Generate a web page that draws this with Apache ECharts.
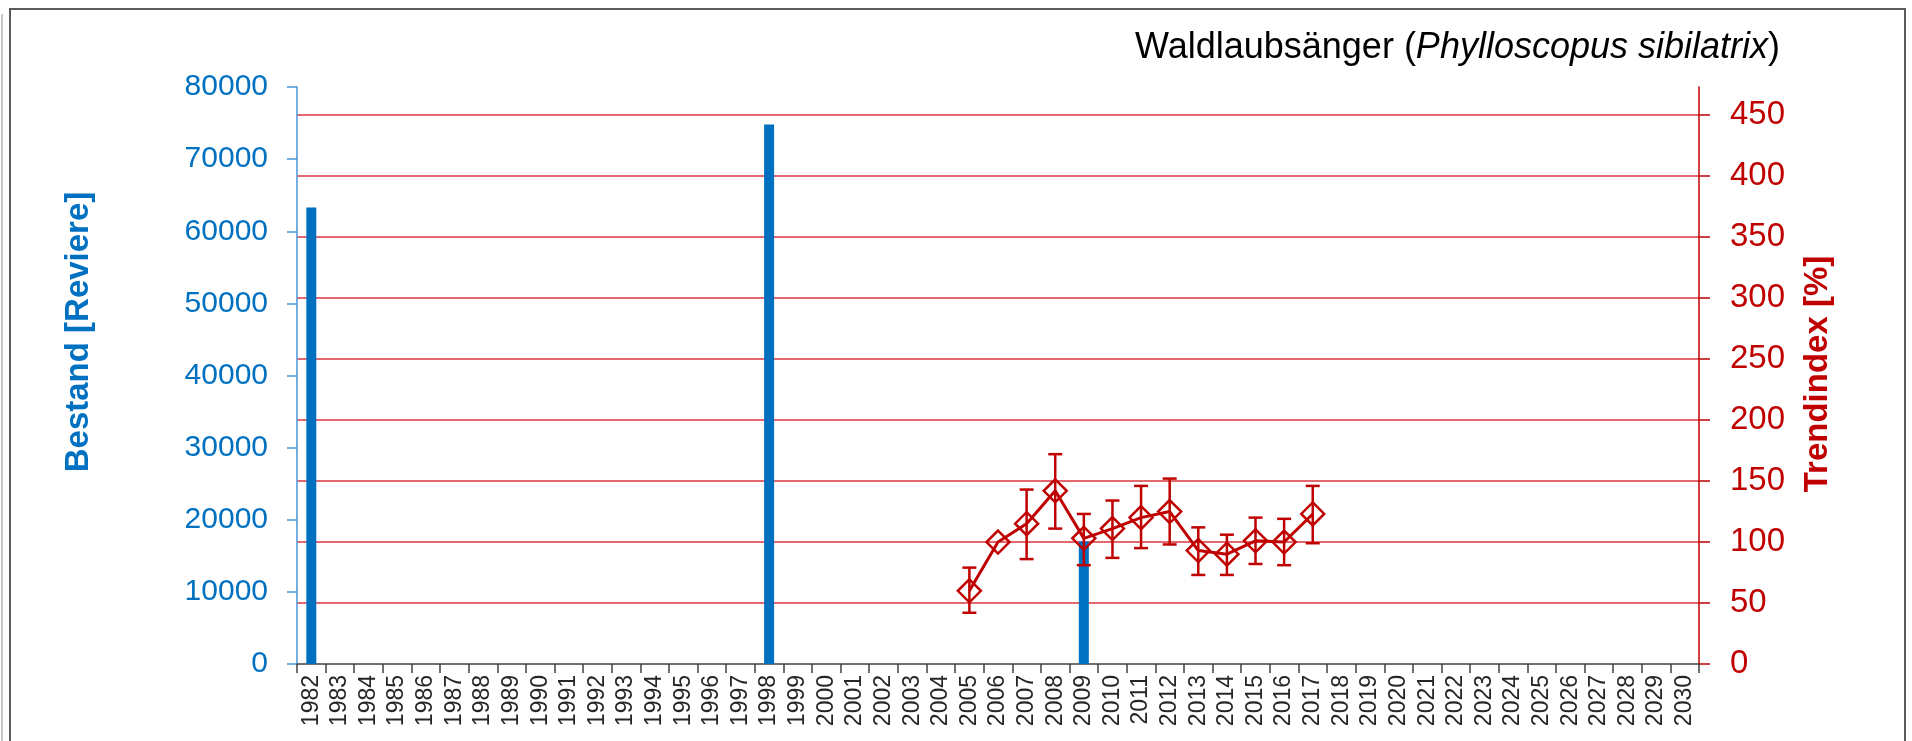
<!DOCTYPE html>
<html>
<head>
<meta charset="utf-8">
<title>Waldlaubsänger</title>
<script src="https://cdn.jsdelivr.net/npm/echarts@6/dist/echarts.min.js"></script>
<style>
  html, body { margin: 0; padding: 0; background: #fff; }
  #chart { width: 1912px; height: 741px; }
</style>
</head>
<body>
<div id="chart"></div>
<script>
// x-Achse: Jahre
var years = ['1982','1983','1984','1985','1986','1987','1988','1989','1990','1991',
             '1992','1993','1994','1995','1996','1997','1998','1999','2000','2001',
             '2002','2003','2004','2005','2006','2007','2008','2009','2010','2011',
             '2012','2013','2014','2015','2016','2017','2018','2019','2020','2021',
             '2022','2023','2024','2025','2026','2027','2028','2029','2030'];

// Bestand [Reviere] (Balken, linke Achse)
var bestandYears  = ['1982', '1998', '2009'];
var bestandValues = [63300, 74800, 17000];

// Trendindex [%] mit Fehlerbalken (rechte Achse)
var trendYears  = ['2005','2006','2007','2008','2009','2010','2011','2012','2013','2014','2015','2016','2017'];
var trendValues = [60, 100, 115, 142, 103, 111, 120, 125, 93, 90, 101, 100, 123];
var trendLow    = [42, null, 86, 111, 81, 87, 95, 98, 73, 73, 82, 81, 99];
var trendHigh   = [79, null, 143, 172, 123, 134, 146, 152, 112, 106, 120, 119, 146];

// Achsen
var leftTicks  = [0, 10000, 20000, 30000, 40000, 50000, 60000, 70000, 80000];
var rightTicks = [0, 50, 100, 150, 200, 250, 300, 350, 400, 450];

var FONT = 'Liberation Sans';
var BLUE = '#0070C0';
var RED = '#C00000';

var dom = document.getElementById('chart');
var myChart = echarts.init(dom);

var barData = [];
for (var i = 0; i < bestandYears.length; i++) {
    barData.push([bestandYears[i], bestandValues[i]]);
}
var lineData = [];
var errData = [];
for (var j = 0; j < trendYears.length; j++) {
    lineData.push([trendYears[j], trendValues[j]]);
    if (trendLow[j] != null) {
        errData.push([trendYears[j], trendLow[j], trendHigh[j]]);
    }
}

// Fehlerbalken mit Querstrichen
function renderErr(params, api) {
    var lo = api.coord([api.value(0), api.value(1)]);
    var hi = api.coord([api.value(0), api.value(2)]);
    var half = 7;
    var st = { stroke: RED, lineWidth: 2.5 };
    return {
        type: 'group',
        children: [
            { type: 'line', shape: { x1: lo[0], y1: lo[1], x2: hi[0], y2: hi[1] }, style: st },
            { type: 'line', shape: { x1: lo[0] - half, y1: lo[1], x2: lo[0] + half, y2: lo[1] }, style: st },
            { type: 'line', shape: { x1: hi[0] - half, y1: hi[1], x2: hi[0] + half, y2: hi[1] }, style: st }
        ]
    };
}

var option = {
    animation: false,
    textStyle: { fontFamily: FONT },
    title: {
        right: 127,
        top: 25,
        text: '{n|Waldlaubsänger (}{i|Phylloscopus sibilatrix}{n|)}',
        textStyle: {
            fontWeight: 'normal',
            rich: {
                n: { fontFamily: FONT, fontSize: 36, fontWeight: 'normal', color: '#000' },
                i: { fontFamily: FONT, fontSize: 36, fontWeight: 'normal', color: '#000', fontStyle: 'italic' }
            }
        }
    },
    graphic: [
        { type: 'rect', shape: { x: 10, y: 9, width: 1895, height: 760 },
          style: { fill: 'none', stroke: '#5a5a5a', lineWidth: 2 } },
        { type: 'line', shape: { x1: 2, y1: 14, x2: 2, y2: 741 },
          style: { stroke: '#c8c8c8', lineWidth: 2 } },
        { type: 'text', x: 79, y: 332, rotation: Math.PI / 2,
          style: { text: 'Bestand [Reviere]', font: 'bold 33px ' + FONT, fill: BLUE,
                   textAlign: 'center', textVerticalAlign: 'middle', align: 'center', verticalAlign: 'middle' } },
        { type: 'text', x: 1818, y: 374, rotation: Math.PI / 2,
          style: { text: 'Trendindex [%]', font: 'bold 33px ' + FONT, fill: RED,
                   textAlign: 'center', textVerticalAlign: 'middle', align: 'center', verticalAlign: 'middle' } }
    ],
    grid: {
        left: 297,
        right: 213,
        top: 87,
        bottom: 77
    },
    xAxis: {
        type: 'category',
        data: years,
        boundaryGap: true,
        axisLine: { lineStyle: { color: '#404040', width: 1.5 } },
        axisTick: { show: true, length: 9, interval: 0, lineStyle: { color: '#404040', width: 1.5 } },
        axisLabel: {
            interval: 0, rotate: 90, margin: 11,
            fontFamily: FONT, fontSize: 23, color: '#262626'
        },
        splitLine: { show: false }
    },
    yAxis: [
        {
            type: 'value',
            min: leftTicks[0],
            max: leftTicks[leftTicks.length - 1],
            interval: 10000,
            position: 'left',
            axisLine: { show: true, lineStyle: { color: '#4a94d8', width: 1.5 } },
            axisTick: { show: true, length: 10, lineStyle: { color: '#4a94d8', width: 1.5 } },
            axisLabel: { margin: 29, fontFamily: FONT, fontSize: 30, color: BLUE,
                         formatter: function (v) { return String(v); } },
            splitLine: { show: false }
        },
        {
            type: 'value',
            min: 0,
            max: 473,
            interval: 50,
            position: 'right',
            axisLine: { show: true, lineStyle: { color: RED, width: 1.5 } },
            axisTick: { show: true, length: 11, customValues: rightTicks, lineStyle: { color: RED, width: 1.5 } },
            axisLabel: { margin: 31, fontFamily: FONT, fontSize: 33, color: RED,
                         customValues: rightTicks },
            splitLine: { show: true, showMinLine: false,
                         lineStyle: { color: '#d9363e', width: 1.5 } }
        }
    ],
    series: [
        {
            name: 'Bestand',
            type: 'bar',
            yAxisIndex: 0,
            barWidth: 10,
            data: barData,
            itemStyle: { color: BLUE }
        },
        {
            name: 'Fehler',
            type: 'custom',
            yAxisIndex: 1,
            renderItem: renderErr,
            data: errData,
            z: 3
        },
        {
            name: 'Trendindex',
            type: 'line',
            yAxisIndex: 1,
            data: lineData,
            symbol: 'diamond',
            symbolSize: 23,
            lineStyle: { color: RED, width: 3 },
            itemStyle: { color: 'rgba(255,255,255,0)', borderColor: RED, borderWidth: 2.5 },
            z: 4
        }
    ]
};

if (option && typeof option === 'object') {
    myChart.setOption(option, true);
    window.onresize = myChart.resize;
}
</script>
</body>
</html>
